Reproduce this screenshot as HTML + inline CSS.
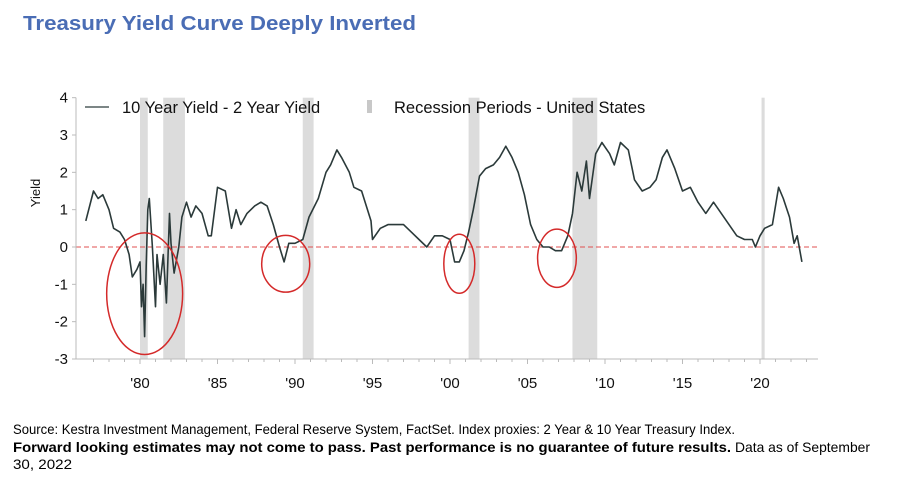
<!DOCTYPE html>
<html><head><meta charset="utf-8"><style>
html,body{margin:0;padding:0;background:#fff;}
svg{display:block;font-family:"Liberation Sans",Arial,sans-serif;}
</style></head><body>
<svg id="chart" width="922" height="487" viewBox="0 0 922 487" xmlns="http://www.w3.org/2000/svg">
<text x="23" y="30" font-size="20" font-weight="bold" fill="#4a6db5" textLength="393" lengthAdjust="spacingAndGlyphs">Treasury Yield Curve Deeply Inverted</text>
<g id="plot"></g>
<g>
<line x1="85" y1="107" x2="109" y2="107" stroke="#2f3e3e" stroke-width="1.3"/>
<text x="122" y="113" font-size="16.5" fill="#111">10 Year Yield - 2 Year Yield</text>
<rect x="367" y="100" width="5" height="13" fill="#c8c8c8"/>
<text x="394" y="113" font-size="16.5" fill="#111">Recession Periods - United States</text>
</g>
<text transform="translate(40,193) rotate(-90)" text-anchor="middle" font-size="13" fill="#111">Yield</text>
<text x="13" y="434" font-size="14" fill="#000" textLength="722" lengthAdjust="spacingAndGlyphs">Source: Kestra Investment Management, Federal Reserve System, FactSet. Index proxies: 2 Year &amp; 10 Year Treasury Index.</text>
<text x="13" y="452" font-size="14" font-weight="bold" fill="#000" textLength="718" lengthAdjust="spacingAndGlyphs">Forward looking estimates may not come to pass. Past performance is no guarantee of future results.</text>
<text x="735" y="452" font-size="14" fill="#000" textLength="135" lengthAdjust="spacingAndGlyphs">Data as of September</text>
<text x="13" y="469" font-size="14" fill="#000" textLength="59" lengthAdjust="spacingAndGlyphs">30, 2022</text>
</svg>
<script>
const years=[1976.5,1977.0,1977.3,1977.6,1978.0,1978.3,1978.7,1979.0,1979.3,1979.5,1979.8,1980.0,1980.1,1980.2,1980.3,1980.4,1980.5,1980.6,1980.8,1981.0,1981.1,1981.3,1981.5,1981.7,1981.9,1982.0,1982.2,1982.5,1982.7,1983.0,1983.3,1983.6,1984.0,1984.4,1984.6,1985.0,1985.5,1985.9,1986.2,1986.5,1986.9,1987.4,1987.8,1988.2,1988.6,1989.0,1989.3,1989.6,1990.0,1990.5,1990.9,1991.5,1992.0,1992.3,1992.7,1993.0,1993.5,1993.8,1994.3,1994.9,1995.0,1995.5,1996.0,1996.5,1997.0,1997.5,1998.0,1998.5,1999.0,1999.5,2000.0,2000.3,2000.6,2000.9,2001.2,2001.5,2001.9,2002.3,2002.8,2003.2,2003.6,2004.0,2004.4,2004.8,2005.2,2005.6,2006.0,2006.4,2006.8,2007.2,2007.6,2007.9,2008.2,2008.5,2008.8,2009.0,2009.4,2009.8,2010.3,2010.6,2011.0,2011.5,2011.9,2012.4,2012.9,2013.3,2013.7,2014.0,2014.5,2015.0,2015.5,2016.0,2016.5,2017.0,2017.5,2018.0,2018.5,2019.0,2019.5,2019.7,2020.0,2020.3,2020.8,2021.2,2021.5,2021.9,2022.2,2022.4,2022.7];
const spread=[0.7,1.5,1.3,1.4,1.0,0.5,0.4,0.2,-0.2,-0.8,-0.6,-0.4,-1.6,-1.0,-2.4,-0.5,1.0,1.3,0.0,-1.6,-0.2,-1.0,-0.2,-1.5,0.9,0.1,-0.7,0.0,0.8,1.2,0.8,1.1,0.9,0.3,0.3,1.6,1.5,0.5,1.0,0.6,0.9,1.1,1.2,1.1,0.6,0.0,-0.4,0.1,0.1,0.2,0.8,1.3,2.0,2.2,2.6,2.4,2.0,1.6,1.5,0.7,0.2,0.5,0.6,0.6,0.6,0.4,0.2,0.0,0.3,0.3,0.2,-0.4,-0.4,-0.1,0.4,1.0,1.9,2.1,2.2,2.4,2.7,2.4,2.0,1.4,0.6,0.2,0.0,0.0,-0.1,-0.1,0.3,0.9,2.0,1.5,2.3,1.3,2.5,2.8,2.5,2.2,2.8,2.6,1.8,1.5,1.6,1.8,2.4,2.6,2.1,1.5,1.6,1.2,0.9,1.2,0.9,0.6,0.3,0.2,0.2,0.0,0.3,0.5,0.6,1.6,1.3,0.8,0.1,0.3,-0.4];
const recStart=[1980.0,1981.5,1990.5,2001.2,2007.9,2020.1];
const recEnd=[1980.5,1982.9,1991.2,2001.9,2009.5,2020.3];
const yTicks=[4,3,2,1,0,-1,-2,-3];
const xTickYears=[1980,1985,1990,1995,2000,2005,2010,2015,2020];
const xTickLabels=["'80","'85","'90","'95","'00","'05","'10","'15","'20"];
const circleX=[1980.3,1989.4,2000.6,2006.9];
const circleY=[-1.25,-0.45,-0.45,-0.3];
const circleRX=[2.45,1.55,1.0,1.25];
const circleRY=[1.63,0.76,0.79,0.78];

const NS="http://www.w3.org/2000/svg";
const X=yr=>140+(yr-1980)*15.5;
const Y=v=>247-v*37.33;
const g=document.getElementById('plot');
function mk(t,a){const e=document.createElementNS(NS,t);for(const k in a)e.setAttribute(k,a[k]);g.appendChild(e);return e;}
recStart.forEach((s,i)=>{
  const r=mk('rect',{x:X(s),y:Y(4),width:X(recEnd[i])-X(s),height:Y(-3)-Y(4),fill:'#dcdcdc'});
  
  
});
const z=mk('line',{x1:76,x2:818,y1:Y(0),y2:Y(0),stroke:'#e05050','stroke-width':1,'stroke-dasharray':'5,3'});


const ax=mk('path',{d:`M76 ${Y(4)} V${Y(-3)} H818`,stroke:'#bbb',fill:'none','stroke-width':1});


yTicks.forEach(v=>{
  const t=mk('line',{x1:72,x2:76,y1:Y(v),y2:Y(v),stroke:'#bbb'});
  
  
  const l=mk('text',{x:68,y:Y(v)+5,'text-anchor':'end','font-size':15,fill:'#111'});
  l.textContent=v;
  
  
});
for(let yr=1977;yr<=2023;yr++){
  const t=mk('line',{x1:X(yr),x2:X(yr),y1:Y(-3),y2:Y(-3)+(yr%5===0?5:3),stroke:'#bbb'});
  
  
}
xTickYears.forEach((yr,i)=>{
  const l=mk('text',{x:X(yr),y:Y(-3)+29,'text-anchor':'middle','font-size':15,fill:'#111'});
  l.textContent=xTickLabels[i];
  
  
});
const p=mk('polyline',{points:years.map((yr,i)=>X(yr).toFixed(1)+','+Y(spread[i]).toFixed(1)).join(' '),fill:'none',stroke:'#2b3a3a','stroke-width':1.6,'stroke-linejoin':'round'});


circleX.forEach((cx,i)=>{
  const c=mk('ellipse',{cx:X(cx),cy:Y(circleY[i]),rx:circleRX[i]*15.5,ry:circleRY[i]*37.33,fill:'none',stroke:'#d42a2a','stroke-width':1.5});
  
  
});
</script>
</body></html>
